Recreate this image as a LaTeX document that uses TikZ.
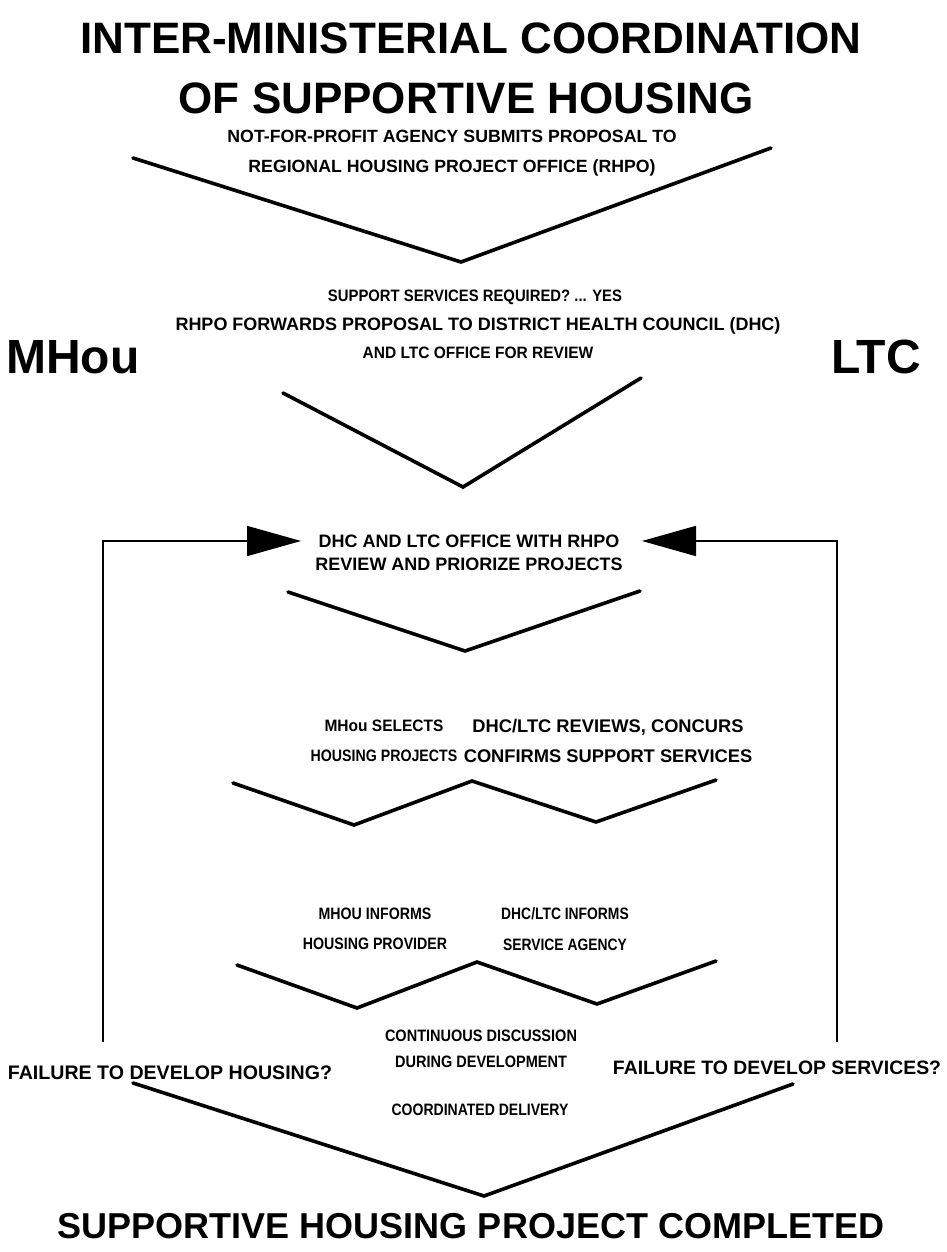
\documentclass[tikz,border=0pt]{standalone}
\usepackage{fontspec}
\usepackage{graphicx}
\setmainfont{Liberation Sans}
\usetikzlibrary{arrows.meta}
\newcommand\fsz[1]{\fontsize{#1}{#1}\selectfont}
% horizontally condensed line of label text
\newcommand\cnd[2]{\scalebox{#1}[1]{#2}}
\begin{document}
\begin{tikzpicture}[x=1pt,y=-1pt,
  lbl/.style={font=\fsz{16.5}\bfseries, align=center, inner sep=0pt},
  big/.style={font=\fontsize{44}{50}\selectfont\bfseries, inner sep=0pt},
  side/.style={font=\fontsize{48}{50}\selectfont\bfseries, inner sep=0pt},
  chev/.style={line width=3.6pt, line join=miter, line cap=round},
  loop/.style={line width=1.7pt, -{Triangle[length=54pt,width=30pt]}}]
\useasboundingbox (0,0) rectangle (947,1252);

% heading
\node[big] (title1) at (471,38) {INTER-MINISTERIAL COORDINATION};
\node[big] (title2) at (466,98) {OF SUPPORTIVE HOUSING};

% stage 1
\node[lbl, font=\fsz{17.7}\bfseries] (submit) at (452,153) {NOT-FOR-PROFIT AGENCY SUBMITS PROPOSAL TO\\[12pt]REGIONAL HOUSING PROJECT OFFICE (RHPO)};
\draw[chev] (133,158) -- (461,262) -- (771,148);

\node[lbl] (question) at (475,297) {\cnd{0.9}{SUPPORT SERVICES REQUIRED? ... YES}};

% ministries
\node[side] (mhou) at (73,357) {MHou};
\node[side] (ltc) at (876,357) {LTC};

% stage 2
\node[lbl, font=\fsz{18}\bfseries] (forward) at (478,338) {RHPO FORWARDS PROPOSAL TO DISTRICT HEALTH COUNCIL (DHC)\\[10pt]\fsz{16.5}\cnd{0.94}{AND LTC OFFICE FOR REVIEW}};
\draw[chev] (283,393) -- (463,487) -- (641,378);

% stage 3
\node[lbl, font=\fsz{18}\bfseries] (review) at (469,553) {DHC AND LTC OFFICE WITH RHPO\\[5pt]REVIEW AND PRIORIZE PROJECTS};
\draw[chev] (288,592) -- (465,651) -- (640,591);

% stage 4
\node[lbl] (select) at (384,741) {\cnd{0.94}{MHou SELECTS}\\[13.5pt]\cnd{0.86}{HOUSING PROJECTS}};
\node[lbl, font=\fsz{18.3}\bfseries] (concur) at (608,741) {DHC/LTC REVIEWS, CONCURS\\[12pt]CONFIRMS SUPPORT SERVICES};
\draw[chev] (233,783) -- (354,825) -- (472,781) -- (596,822) -- (716,780);

% stage 5
\node[lbl] (provider) at (375,929) {\cnd{0.86}{MHOU INFORMS}\\[14pt]\cnd{0.86}{HOUSING PROVIDER}};
\node[lbl] (agency) at (565,929) {\cnd{0.84}{DHC/LTC INFORMS}\\[14.5pt]\cnd{0.84}{SERVICE AGENCY}};
\draw[chev] (237,965) -- (357,1008) -- (477,962) -- (597,1004) -- (716,961);

\node[lbl] (discuss) at (481,1049) {\cnd{0.88}{CONTINUOUS DISCUSSION}\\[9pt]\cnd{0.88}{DURING DEVELOPMENT}};
\node[lbl, font=\fsz{19.6}\bfseries] (failh) at (170,1073) {FAILURE TO DEVELOP HOUSING?};
\node[lbl, font=\fsz{19.4}\bfseries] (fails) at (777,1068) {FAILURE TO DEVELOP SERVICES?};
\node[lbl] (deliver) at (480,1110) {\cnd{0.85}{COORDINATED DELIVERY}};
\draw[chev] (133,1083) -- (484,1196) -- (793,1084);

\node[font=\fontsize{36}{40}\selectfont\bfseries, inner sep=0pt] (done) at (471,1226) {SUPPORTIVE HOUSING PROJECT COMPLETED};

% feedback loops back to the review stage
\coordinate (hfoot) at (103,1042);
\coordinate (htip) at (301,541);
\coordinate (sfoot) at (837,1042);
\coordinate (stip) at (642,541);
\draw[loop] (hfoot) |- (htip);
\draw[loop] (sfoot) |- (stip);
\end{tikzpicture}
\end{document}
